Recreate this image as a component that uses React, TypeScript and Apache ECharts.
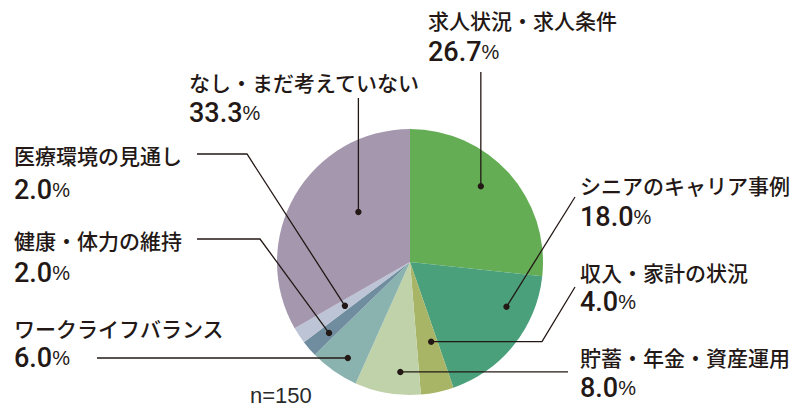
import React, { useEffect, useRef } from "react";
import * as echarts from "echarts";

// ---- data ----
const categories = [
  "求人状況・求人条件",
  "シニアのキャリア事例",
  "収入・家計の状況",
  "貯蓄・年金・資産運用",
  "ワークライフバランス",
  "健康・体力の維持",
  "医療環境の見通し",
  "なし・まだ考えていない",
];
const values = [26.7, 18.0, 4.0, 8.0, 6.0, 2.0, 2.0, 33.3];
const sampleNote = "n=150";

// ---- styles / layout ----
const colors = ["#64ad55", "#4aa07b", "#a9b566", "#c0d2a9", "#8ab2ae", "#6f8d9f", "#bcc4d5", "#a598ae"];
const CX = 410;
const CY = 262;
const R = 133;
const INK = "#231815";
const JP_FONT = "'Noto Sans CJK JP', 'Noto Sans', sans-serif";
const NUM_FONT = "Roboto, 'Liberation Sans', sans-serif";

// label text position: [x, nameCenterY, valueCenterY]
const labelPos: number[][] = [
  [428, 20, 52],
  [580, 185, 217],
  [580, 272, 302],
  [580, 357, 388],
  [14, 328, 358],
  [14, 240, 273],
  [14, 155, 190],
  [189, 82, 113],
];
// anchor dot inside slice: [angle offset from slice middle (deg), radius fraction]
const anchorSpec: number[][] = [
  [-5, 0.78],
  [-13.6, 0.8],
  [-3, 0.62],
  [-4.7, 0.83],
  [-2, 0.86],
  [-0.6, 0.81],
  [-0.5, 0.59],
  [14, 0.54],
];
// leader points before the dot; null => take dot's coordinate
const leaderPts: (number | null)[][][] = [
  [[null, 72]],
  [[575, 197]],
  [[575, 287], [542, null]],
  [[568, null]],
  [[97, null]],
  [[197, 239], [260, 239]],
  [[197, 154], [247, 154]],
  [[null, 98]],
];

export default function App() {
  const ref = useRef<HTMLDivElement>(null);
  useEffect(() => {
    if (!ref.current) return;
    const chart = echarts.init(ref.current, undefined, { renderer: "svg" });
    const total = values.reduce((a, b) => a + b, 0);
    let cum = 0;
    const graphics: any[] = [];
    values.forEach((v, i) => {
      const mid = ((cum + v / 2) / total) * 360;
      cum += v;
      const th = ((mid + anchorSpec[i][0]) * Math.PI) / 180;
      const rr = R * anchorSpec[i][1];
      const dx = CX + rr * Math.sin(th);
      const dy = CY - rr * Math.cos(th);
      const pts = leaderPts[i].map((p) => [p[0] == null ? dx : p[0], p[1] == null ? dy : p[1]]);
      pts.push([dx, dy]);
      graphics.push({
        type: "polyline",
        shape: { points: pts },
        style: { stroke: INK, lineWidth: 1.3, fill: null },
        z: 10,
      });
      graphics.push({
        type: "circle",
        shape: { cx: dx, cy: dy, r: 3.2 },
        style: { fill: INK },
        z: 11,
      });
      const [lx, ly1, ly2] = labelPos[i];
      const g = ly2 - ly1;
      graphics.push({
        type: "text",
        x: lx,
        y: ly1 - g / 2,
        style: {
          text: `{a|${categories[i]}}\n{n|${v.toFixed(1)}}{p|%}`,
          verticalAlign: "top",
          align: "left",
          rich: {
            a: { fontSize: 21, fontWeight: 500, fontFamily: JP_FONT, fill: INK, color: INK, lineHeight: g },
            n: { fontSize: 27, fontWeight: 500, fontFamily: NUM_FONT, fill: INK, color: INK, lineHeight: g },
            p: { fontSize: 20, fontWeight: 400, fontFamily: "'Liberation Sans', sans-serif", fill: INK, color: INK, lineHeight: g },
          },
        },
        z: 12,
      });
    });
    graphics.push({
      type: "text",
      x: 250,
      y: 395,
      style: {
        text: sampleNote,
        fill: "#2a2a2a",
        font: `400 22px 'Liberation Sans', sans-serif`,
        verticalAlign: "middle",
        align: "left",
      },
    });

    chart.setOption({
      animation: false,
      backgroundColor: "#ffffff",
      series: [
        {
          type: "pie",
          center: [CX, CY],
          radius: R,
          startAngle: 90,
          clockwise: true,
          label: { show: false },
          labelLine: { show: false },
          emphasis: { disabled: true },
          silent: true,
          data: categories.map((c, i) => ({
            name: c,
            value: values[i],
            itemStyle: { color: colors[i] },
          })),
        },
      ],
      graphic: graphics,
    });
    return () => chart.dispose();
  }, []);
  return (
    <div
      ref={ref}
      style={{ position: "fixed", left: 0, top: 0, width: 800, height: 416 }}
    />
  );
}
